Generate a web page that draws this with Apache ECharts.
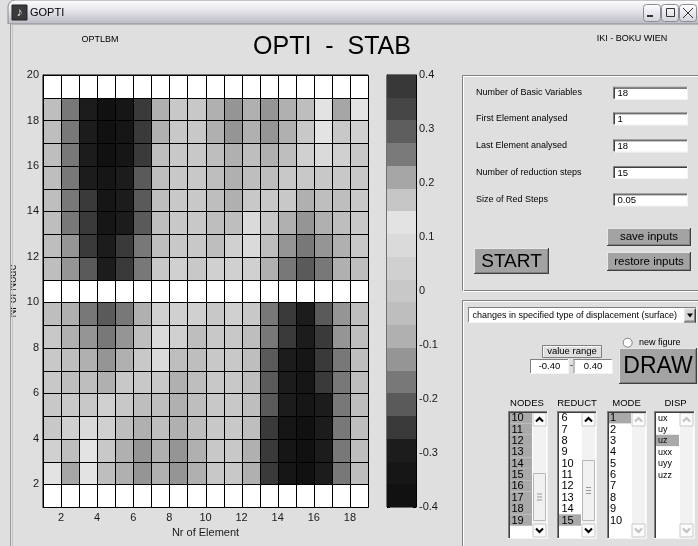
<!DOCTYPE html>
<html><head><meta charset="utf-8">
<script src="https://cdn.jsdelivr.net/npm/echarts@6/dist/echarts.min.js"></script>
<style>html,body{margin:0;padding:0;background:#dfdfdf}#c{width:698px;height:546px}</style>
</head><body><div id="c"></div>
<script>
// ---------- data ----------
const elements = [1,2,3,4,5,6,7,8,9,10,11,12,13,14,15,16,17,18];
const xTicks = [2,4,6,8,10,12,14,16,18];
const yTicks = [2,4,6,8,10,12,14,16,18,20];
const blankNodes = [1, 10, 19];
const node02 = [0.13,0.21,0.13,-0.04,-0.08,-0.13,-0.08,-0.13,-0.08,0,0,-0.08,-0.25,-0.34,-0.38,-0.29,-0.17,-0.04];
const node03 = [0.04,-0.04,0.13,0,-0.08,-0.13,-0.08,-0.13,-0.08,0,0,-0.08,-0.25,-0.34,-0.38,-0.29,-0.17,-0.04];
const node04 = [0,0.04,0.08,0.04,-0.04,-0.08,-0.04,-0.08,-0.04,0,0,-0.04,-0.25,-0.34,-0.38,-0.29,-0.17,-0.04];
const node05 = [0,0,0,0.04,0,-0.04,-0.04,-0.08,-0.04,0,0,-0.04,-0.21,-0.29,-0.34,-0.29,-0.17,-0.04];
const node06 = [0,-0.04,-0.04,-0.08,0,0,0,-0.08,-0.04,0,0,-0.04,-0.21,-0.29,-0.34,-0.25,-0.17,-0.04];
const node07 = [0,-0.04,-0.08,-0.13,-0.08,0,0.08,-0.04,-0.04,0,0,-0.04,-0.21,-0.29,-0.34,-0.25,-0.17,-0.04];
const node08 = [0,-0.08,-0.13,-0.17,-0.13,-0.04,0.08,0.04,-0.04,0,0,-0.04,-0.17,-0.25,-0.29,-0.25,-0.13,-0.04];
const node09 = [-0.04,-0.08,-0.17,-0.21,-0.17,-0.08,0.04,0.04,0.04,0,0.04,0,-0.17,-0.25,-0.29,-0.21,-0.13,-0.04];
const node11 = [-0.04,-0.13,-0.21,-0.29,-0.25,-0.17,0,0.04,0,0.04,0.04,0.04,-0.08,-0.17,-0.21,-0.17,-0.08,-0.04];
const node12 = [-0.04,-0.13,-0.25,-0.29,-0.25,-0.17,-0.04,0,0,-0.04,0.04,0.08,-0.04,-0.13,-0.17,-0.13,-0.08,0];
const node13 = [-0.04,-0.17,-0.25,-0.34,-0.29,-0.21,-0.04,0,0,-0.04,-0.04,0.08,0,-0.08,-0.13,-0.08,-0.04,0];
const node14 = [-0.04,-0.17,-0.25,-0.34,-0.29,-0.21,-0.04,0,0,-0.04,-0.08,0,0,0,-0.08,-0.04,-0.04,0];
const node15 = [-0.04,-0.17,-0.29,-0.34,-0.29,-0.21,-0.04,0,0,-0.04,-0.08,-0.04,-0.04,0,0,0,0,0];
const node16 = [-0.04,-0.17,-0.29,-0.38,-0.34,-0.25,-0.04,0,0,-0.04,-0.08,-0.04,-0.08,-0.04,0.04,0.08,0.04,0];
const node17 = [-0.04,-0.17,-0.29,-0.38,-0.34,-0.25,-0.08,0,0,-0.08,-0.13,-0.08,-0.13,-0.08,0,0.13,0,0.04];
const node18 = [-0.04,-0.17,-0.29,-0.38,-0.34,-0.25,-0.08,0,0,-0.08,-0.13,-0.08,-0.13,-0.08,-0.04,0.13,0.21,0.13];
const nodeRows = {2:node02,3:node03,4:node04,5:node05,6:node06,7:node07,8:node08,9:node09,
  11:node11,12:node12,13:node13,14:node14,15:node15,16:node16,17:node17,18:node18};
const cRange = [-0.4, 0.4];
const cmap = ['#111111','#161616','#1c1c1c','#3a3a3a','#5a5a5a','#787878','#959595','#b0b0b0','#bebebe',
  '#c8c8c8','#d0d0d0','#dadada','#e3e3e3','#c6c6c6','#a6a6a6','#7a7a7a','#5e5e5e','#454545','#383838'];
const nodesList = ['10','11','12','13','14','15','16','17','18','19'];
const reductList = ['6','7','8','9','10','11','12','13','14','15'];
const modeList = ['1','2','3','4','5','6','7','8','9','10'];
const dispList = ['ux','uy','uz','uxx','uyy','uzz'];

// ---------- build ----------
const cells = [];
for (let n = 1; n <= 19; n++) {
  elements.forEach((e, j) => {
    const row = nodeRows[n];
    cells.push([e, n, (blankNodes.indexOf(n) >= 0 || !row) ? '-' : row[j]]);
  });
}
const step = (cRange[1] - cRange[0]) / cmap.length;
const bands = cmap.map((c, i) => [cRange[0] + i * step, cRange[0] + (i + 1) * step, i]);
const pieces = bands.map((b, i) => i === bands.length - 1 ? {gte: b[0], lte: b[1], color: cmap[i]} : {gte: b[0], lt: b[1], color: cmap[i]});

const FF = '"Liberation Sans", Arial, sans-serif';
const FN = '"Liberation Sans Narrow", "Liberation Sans", Arial, sans-serif';
function T(text, x, y, size, align, extra) {
  return Object.assign({type: 'text', z: 20, silent: true, style: {text: text, x: x, y: y,
    font: size + 'px ' + FF, fill: '#000', align: align || 'left', textAlign: align || 'left',
    verticalAlign: 'middle', textVerticalAlign: 'middle'}}, extra || {});
}
function R(x, y, w, h, fill, stroke, z) {
  return {type: 'rect', z: z || 10, silent: true, shape: {x: x, y: y, width: w, height: h},
    style: {fill: fill || 'none', stroke: stroke || 'none', lineWidth: 1}};
}
function L(x1, y1, x2, y2, c, z) {
  return {type: 'line', z: z || 12, silent: true, shape: {x1: x1, y1: y1, x2: x2, y2: y2}, style: {stroke: c, lineWidth: 1}};
}
function sunken(x, y, w, h, fill) {
  return [R(x, y, w, h, fill || '#fff'), L(x, y + 0.5, x + w, y + 0.5, '#808080'), L(x + 0.5, y, x + 0.5, y + h, '#808080'),
    L(x, y + h - 0.5, x + w, y + h - 0.5, '#f4f4f4'), L(x + w - 0.5, y, x + w - 0.5, y + h, '#f4f4f4')];
}
function raised(x, y, w, h, fill) {
  return [R(x, y, w, h, fill || '#a3a3a3'), L(x, y + 0.5, x + w, y + 0.5, '#e8e8e8'), L(x + 0.5, y, x + 0.5, y + h, '#e8e8e8'),
    L(x, y + h - 0.5, x + w, y + h - 0.5, '#404040'), L(x + w - 0.5, y, x + w - 0.5, y + h, '#404040'),
    L(x + 1, y + h - 1.5, x + w - 1, y + h - 1.5, '#808080'), L(x + w - 1.5, y + 1, x + w - 1.5, y + h - 1, '#808080')];
}
function arrowBtn(x, y, w, h, up, dim) {
  const cx = x + w / 2, cy = y + h / 2, c = dim ? '#c0c0c0' : '#000';
  const pts = up ? [[cx - 3.5, cy + 2], [cx, cy - 1.5], [cx + 3.5, cy + 2]] : [[cx - 3.5, cy - 2], [cx, cy + 1.5], [cx + 3.5, cy - 2]];
  return [R(x, y, w, h, '#fbfbfb', '#c8c8c8'), {type: 'polyline', z: 14, silent: true, shape: {points: pts}, style: {stroke: c, lineWidth: 2, fill: 'none'}}];
}
function listBox(x, w, items, selected, itemX, fs, sbDim, thumb) {
  const y = 411, h = 128, out = [];
  out.push(...sunken(x, y, w, h));
  out.push(L(x + 1, y + 1.5, x + w - 1, y + 1.5, '#404040'), L(x + 1.5, y + 1, x + 1.5, y + h - 1, '#404040'));
  const sbx = x + w - 15;
  out.push(R(sbx, y + 2, 13, h - 4, '#f2f2f2'));
  out.push(...arrowBtn(sbx, y + 2, 13, 13, true, sbDim));
  out.push(...arrowBtn(sbx, y + h - 15, 13, 13, false, sbDim));
  if (thumb) {
    out.push(R(sbx + 0.5, thumb[0] + 0.5, 12, thumb[1] - thumb[0], '#f0f0f0', '#b8b8b8'));
    const my = (thumb[0] + thumb[1]) / 2;
    out.push(L(sbx + 4, my - 2.5, sbx + 9, my - 2.5, '#999'), L(sbx + 4, my + 0.5, sbx + 9, my + 0.5, '#999'), L(sbx + 4, my + 3.5, sbx + 9, my + 3.5, '#999'));
  }
  items.forEach((t, k) => {
    const cy = 417.7 + k * 11.37;
    if (selected.indexOf(k) >= 0) out.push(R(x + 2, cy - 5.7, sbx - x - 3, 11.4, '#a9a9a9', null, 11));
    out.push(T(t, itemX, cy + 0.5, fs, 'left', {style: {text: t, x: itemX, y: cy + 0.5, font: fs + 'px ' + FN, fill: '#000', align: 'left', textAlign: 'left', verticalAlign: 'middle', textVerticalAlign: 'middle'}}));
  });
  return out;
}

const g = [];
// title bar
g.push({type: 'rect', z: 5, silent: true, shape: {x: 8, y: 0, width: 700, height: 24, r: [7, 0, 0, 0]},
  style: {fill: {type: 'linear', x: 0, y: 0, x2: 0, y2: 1, colorStops: [{offset: 0, color: '#ffffff'}, {offset: 0.45, color: '#e4e4ea'}, {offset: 1, color: '#b9b9c3'}]}, stroke: '#8a8a94', lineWidth: 1}});
g.push(R(12, 5, 15, 15, '#3a3a3a', '#222', 6));
g.push({type: 'text', z: 7, silent: true, style: {text: '♪', x: 19.5, y: 12.5, font: 'bold 12px ' + FF, fill: '#e8e8e8', align: 'center', textAlign: 'center', verticalAlign: 'middle', textVerticalAlign: 'middle'}});
g.push(T('GOPTI', 30, 12.5, 11));
[643, 661, 679].forEach((bx, k) => {
  g.push({type: 'rect', z: 6, silent: true, shape: {x: bx + 0.5, y: 4.5, width: 17, height: 17, r: 3},
    style: {fill: {type: 'linear', x: 0, y: 0, x2: 0, y2: 1, colorStops: [{offset: 0, color: '#ffffff'}, {offset: 1, color: '#d2d2da'}]}, stroke: '#8c8c98', lineWidth: 1}});
});
g.push(R(647, 15, 6, 2, '#333', null, 8));
g.push(R(666.5, 8.5, 8, 8, 'none', '#333', 8));
g.push(L(683, 8, 693, 18, '#333', 8), L(693, 8, 683, 18, '#333', 8));
// window frame left
g.push(R(0, 24, 10, 522, '#dfdfdf', null, 50));
g.push(L(10.5, 24, 10.5, 546, '#9a9a9a', 51), L(12.5, 24, 12.5, 546, '#c4c4c4', 51));
// header texts
g.push(T('OPTLBM', 100, 40, 9, 'center'));
g.push(T('OPTI  -  STAB', 332, 47, 25, 'center'));
g.push(T('IKI - BOKU WIEN', 632, 39, 9, 'center'));
// upper panel
g.push(R(462.5, 75.5, 240, 215, 'none', '#808080'));
g.push(R(463.5, 76.5, 240, 215, 'none', '#ffffff'));
const labels = ['Number of Basic Variables', 'First Element analysed', 'Last Element analysed', 'Number of reduction steps', 'Size of Red Steps'];
const vals = ['18', '1', '18', '15', '0.05'];
const lys = [92.5, 119, 146, 172.7, 200];
const bys = [86.7, 112.3, 139.3, 166, 193.3];
labels.forEach((s, i) => {
  g.push(T(s, 476, lys[i], 9));
  g.push(...sunken(613, bys[i], 75, 13));
  g.push(L(614, bys[i] + 1.5, 687, bys[i] + 1.5, '#404040'), L(614.5, bys[i] + 1, 614.5, bys[i] + 12, '#404040'));
  g.push(T(vals[i], 617.5, bys[i] + 7, 9.5));
});
g.push(...raised(607, 228, 84, 18));
g.push(T('save inputs', 649, 237.2, 11.5, 'center'));
g.push(...raised(607, 252, 84, 19));
g.push(T('restore inputs', 649, 261.5, 11.5, 'center'));
g.push(...raised(474, 248, 75, 26));
g.push(T('START', 511.5, 261.5, 19, 'center'));
// lower panel
g.push(R(462.5, 300.5, 240, 250, 'none', '#808080'));
g.push(R(463.5, 301.5, 240, 250, 'none', '#ffffff'));
g.push(...sunken(468, 307, 229, 16));
g.push(T('changes in specified type of displacement (surface)', 472.5, 315.3, 9));
g.push(...raised(684, 308.5, 12, 14, '#d8d8d8'));
g.push({type: 'polygon', z: 14, silent: true, shape: {points: [[687, 313.5], [693, 313.5], [690, 317.5]]}, style: {fill: '#000'}});
g.push({type: 'circle', z: 12, silent: true, shape: {cx: 627.7, cy: 342.7, r: 4.5}, style: {fill: '#fff', stroke: '#808080', lineWidth: 1}});
g.push(T('new figure', 639, 342.7, 9));
g.push(R(542.5, 345.5, 59, 12, '#dfdfdf', '#808080'));
g.push(L(543, 346.5, 601, 346.5, '#fff'), L(543.5, 346, 543.5, 357, '#fff'));
g.push(T('value range', 572, 351.8, 9.5, 'center'));
g.push(...sunken(530, 359, 39, 15));
g.push(T('-0.40', 549.5, 366.8, 9.5, 'center'));
g.push(T('-', 571.5, 366, 9, 'center'));
g.push(...sunken(573.5, 359, 39, 15));
g.push(T('0.40', 593, 366.8, 9.5, 'center'));
g.push(...raised(619, 348, 78, 36, '#a3a3a3'));
g.push(T('DRAW', 658, 366.5, 23, 'center'));
g.push(T('NODES', 527, 403.3, 9.5, 'center'));
g.push(T('REDUCT', 577, 403.3, 9.5, 'center'));
g.push(T('MODE', 626.5, 403.3, 9.5, 'center'));
g.push(T('DISP', 675.5, 403.3, 9.5, 'center'));
g.push(...listBox(508, 40, nodesList, [0,1,2,3,4,5,6,7,8,9], 511.5, 11, false, [473, 520]));
g.push(...listBox(557, 40, reductList, [9], 561.5, 11, false, [460, 520]));
g.push(...listBox(607, 40, modeList, [0], 610, 11, true, null));
g.push(...listBox(654, 41, dispList, [2], 658, 9, true, null));

const axisText = {color: '#1a1a1a', fontSize: 11, fontFamily: FF};
const option = {
  backgroundColor: '#dfdfdf',
  animation: false,
  grid: [
    {left: 43, top: 75, width: 325, height: 432, show: true, borderColor: '#000', borderWidth: 1, backgroundColor: 'transparent'},
    {left: 387, top: 75, width: 29, height: 432, show: true, borderColor: '#000', borderWidth: 1, backgroundColor: 'transparent'}
  ],
  xAxis: [
    {type: 'value', gridIndex: 0, min: 1, max: 19, name: 'Nr of Element', nameLocation: 'middle', nameGap: 19,
      nameTextStyle: axisText,
      axisLine: {lineStyle: {color: '#000'}}, splitLine: {show: false},
      axisTick: {inside: true, length: 4, customValues: xTicks, lineStyle: {color: '#000'}},
      axisLabel: Object.assign({margin: 5, customValues: xTicks}, axisText)},
    {type: 'value', gridIndex: 1, min: 0, max: 1, show: false}
  ],
  yAxis: [
    {type: 'value', gridIndex: 0, min: 1, max: 20, name: 'Nr of Node', nameLocation: 'middle', nameGap: 25,
      nameTextStyle: axisText,
      axisLine: {lineStyle: {color: '#000'}}, splitLine: {show: false},
      axisTick: {inside: true, length: 4, customValues: yTicks, lineStyle: {color: '#000'}},
      axisLabel: Object.assign({margin: 4, customValues: yTicks}, axisText)},
    {type: 'value', gridIndex: 1, min: cRange[0], max: cRange[1], interval: 0.1, position: 'left',
      axisLine: {show: true, lineStyle: {color: '#000'}}, splitLine: {show: false},
      axisTick: {inside: true, length: 3, lineStyle: {color: '#000'}}, axisLabel: {show: false}},
    {type: 'value', gridIndex: 1, min: cRange[0], max: cRange[1], interval: 0.1, position: 'right',
      axisLine: {show: true, lineStyle: {color: '#000'}}, splitLine: {show: false},
      axisTick: {inside: true, length: 3, lineStyle: {color: '#000'}},
      axisLabel: Object.assign({margin: 3}, axisText)}
  ],
  visualMap: {type: 'piecewise', show: false, seriesIndex: 0, dimension: 2, pieces: pieces},
  series: [
    {type: 'custom', xAxisIndex: 0, yAxisIndex: 0, data: cells, encode: {x: 0, y: 1}, z: 2,
      renderItem: function (params, api) {
        const x = api.value(0), y = api.value(1), v = api.value(2);
        const a = api.coord([x, y + 1]), b = api.coord([x + 1, y]);
        const x0 = Math.round(a[0]) + 0.5, y0 = Math.round(a[1]) + 0.5;
        const x1 = Math.round(b[0]) + 0.5, y1 = Math.round(b[1]) + 0.5;
        let fill = '#ffffff';
        if (!isNaN(v)) {
          fill = api.visual('color');
          if (!fill) { const k = Math.min(cmap.length - 1, Math.floor((v - cRange[0]) / step)); fill = cmap[k]; }
        }
        return {type: 'rect', shape: {x: x0, y: y0, width: x1 - x0, height: y1 - y0}, style: {fill: fill, stroke: '#000', lineWidth: 1}};
      }},
    {type: 'custom', xAxisIndex: 1, yAxisIndex: 2, data: bands, encode: {y: [0, 1]}, z: 2,
      renderItem: function (params, api) {
        const lo = api.value(0), hi = api.value(1), i = api.value(2);
        const a = api.coord([0, hi]), b = api.coord([1, lo]);
        const y0 = Math.round(a[1]), y1 = Math.round(b[1]);
        return {type: 'rect', shape: {x: a[0], y: y0, width: b[0] - a[0], height: y1 - y0}, style: {fill: cmap[i]}};
      }}
  ],
  graphic: {elements: g}
};
const chart = echarts.init(document.getElementById('c'), null, {renderer: 'canvas'});
chart.setOption(option);
</script></body></html>
